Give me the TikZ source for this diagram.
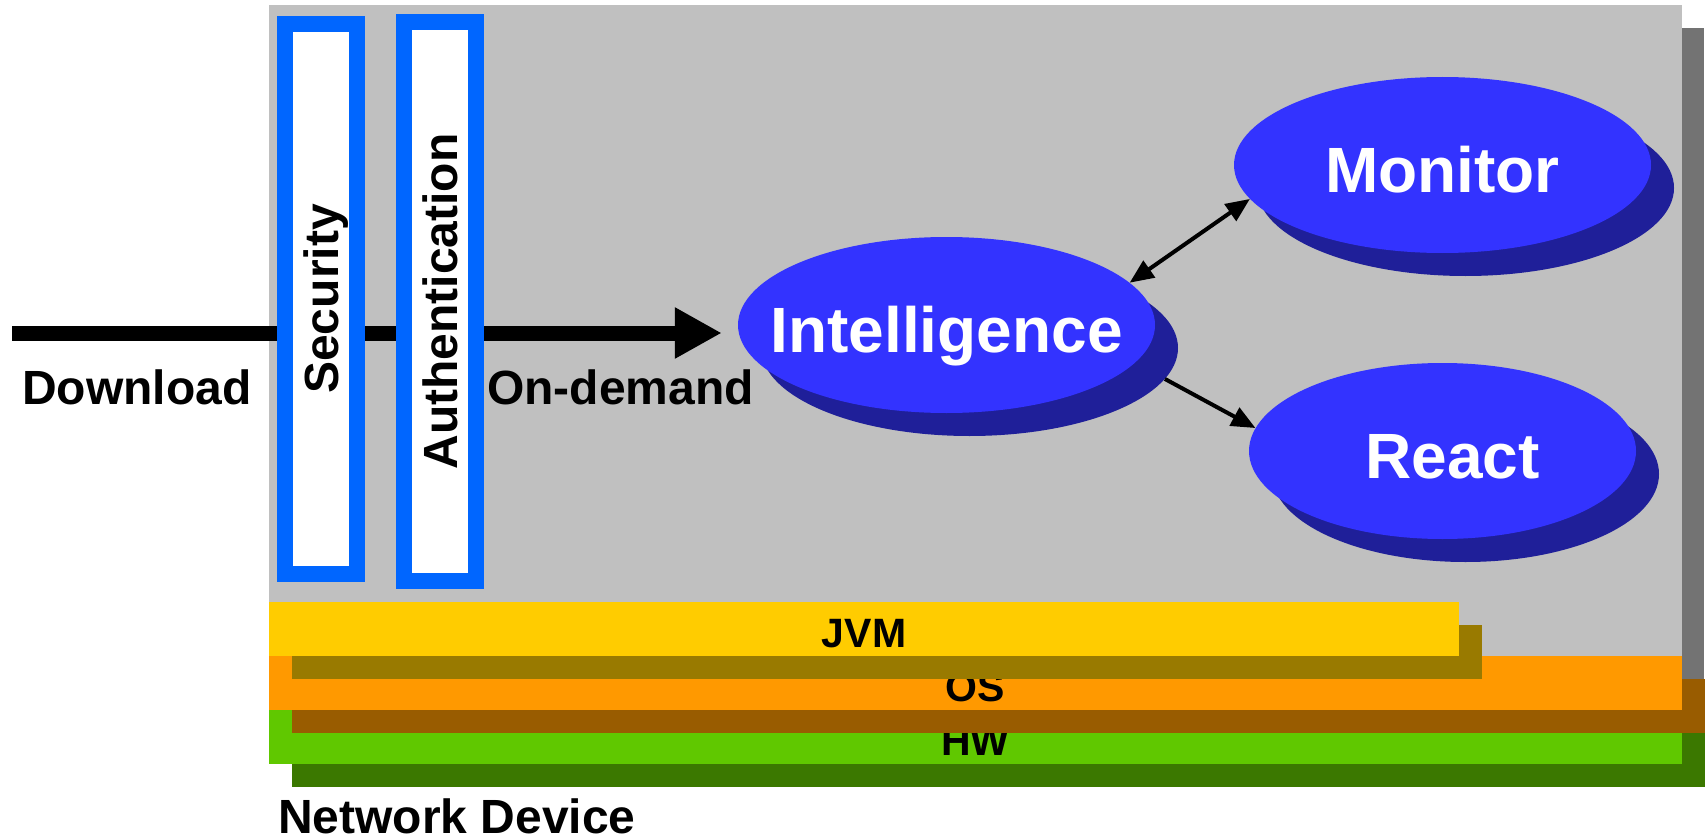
\documentclass[tikz,border=0pt]{standalone}
\usepackage{fontspec}
\setmainfont{Liberation Sans}
\usetikzlibrary{arrows.meta,shapes.geometric}
\definecolor{bgray}{RGB}{192,192,192}
\definecolor{bgrays}{RGB}{115,115,115}
\definecolor{eblue}{RGB}{51,51,255}
\definecolor{eblues}{RGB}{31,31,153}
\definecolor{fblue}{RGB}{0,102,255}
\definecolor{jvmc}{RGB}{255,204,0}
\definecolor{jvms}{RGB}{153,122,0}
\definecolor{osc}{RGB}{255,153,0}
\definecolor{oss}{RGB}{153,92,0}
\definecolor{hwc}{RGB}{96,200,0}
\definecolor{hws}{RGB}{59,120,0}
\begin{document}
\begin{tikzpicture}[x=1pt,y=-1pt,
  ell/.style={ellipse, inner sep=0pt, minimum height=176pt},
  elltxt/.style={anchor=base, inner sep=0pt, text=white, font=\fontsize{64}{70}\selectfont\bfseries},
  lbl/.style={anchor=base west, inner sep=0pt, font=\fontsize{48}{54}\selectfont\bfseries},
  filt/.style={draw=fblue, line width=16pt, fill=white, rotate=90, inner sep=0pt, minimum height=72pt, text depth=0pt, font=\fontsize{48}{54}\selectfont\bfseries},
  layer/.style={inner sep=0pt, minimum height=54pt, text height=36pt, text depth=0pt, font=\fontsize{41}{48}\selectfont\bfseries},
  thinar/.style={line width=4pt, >={Triangle[length=24pt,width=20pt]}},
  bigar/.style={line width=15pt, -{Triangle[length=47pt,width=48pt]}}
]
\useasboundingbox (0,0) rectangle (1708,840);
% device background and shadow
\node[fill=bgrays, anchor=north west, minimum width=22pt, minimum height=705pt, inner sep=0pt] (devsh) at (1682,28) {};
\node[fill=bgray, anchor=north west, minimum width=1413pt, minimum height=705pt, inner sep=0pt] (device) at (269,5) {};
% ellipses
\node[ell, fill=eblues, minimum width=417pt] (intelsh) at (969.5,348) {};
\node[ell, fill=eblue, minimum width=417pt] (intel) at (946.5,325) {};
\node[elltxt] (inteltxt) at ([yshift=-27pt]intel.center) {Intelligence};
\node[ell, fill=eblues, minimum width=417pt] (monitorsh) at (1465.5,188) {};
\node[ell, fill=eblue, minimum width=417pt] (monitor) at (1442.5,165) {};
\node[elltxt] (monitortxt) at ([yshift=-27pt]monitor.center) {Monitor};
\node[ell, fill=eblues, minimum width=387pt] (reactsh) at (1465.5,474) {};
\node[ell, fill=eblue, minimum width=387pt] (react) at (1442.5,451) {};
\node[elltxt] (reacttxt) at ([xshift=10pt,yshift=-27pt]react.center) {React};
% download line
\coordinate (dlstart) at (12,333);
\draw[bigar, shorten >=16pt] (dlstart) -- (dlstart -| intel.west);
% filter boxes
\node[filt, minimum width=549.5pt] (sec) at (321,299) {Security};
\node[filt, minimum width=559pt] (auth) at (440,301.5) {Authentication};
% thin arrows
\draw[thinar,<->] (intel.13.5) -- (monitor.190);
\draw[thinar,->] (intelsh.-9.5) -- (react.173);
% labels
\node[lbl] (download) at (22,404) {Download};
\node[lbl] (ondemand) at (487,404) {On-demand};
\node[lbl] (netdev) at (278,833) {Network Device};
% layers
\node[layer, fill=hws, minimum width=1413pt] (hwsh) at (998.5,760) {};
\node[layer, fill=hwc, minimum width=1413pt] (hw) at (975.5,737) {HW};
\node[layer, fill=oss, minimum width=1413pt] (ossh) at (998.5,706) {};
\node[layer, fill=osc, minimum width=1413pt] (os) at (975.5,683) {OS};
\node[layer, fill=jvms, minimum width=1190pt] (jvmsh) at (887,652) {};
\node[layer, fill=jvmc, minimum width=1190pt] (jvm) at (864,629) {JVM};
\end{tikzpicture}
\end{document}
